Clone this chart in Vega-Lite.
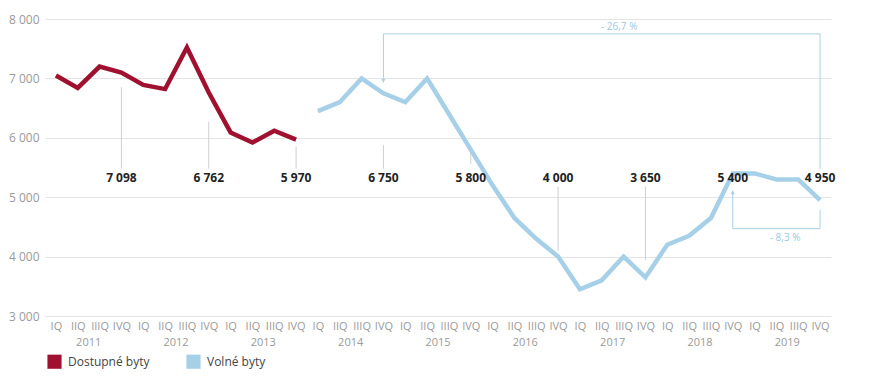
{
  "$schema": "https://vega.github.io/schema/vega-lite/v6.json",
  "width": 786,
  "height": 297,
  "autosize": "none",
  "padding": {"left": 45, "top": 19, "right": 40, "bottom": 62},
  "config": {"font": "Open Sans", "view": {"stroke": null}, "axisX": {"labelOverlap": false, "labelBound": false, "labelFlush": false}},
  "datasets": {
    "series": [
      {"q": 0, "series": "Dostupné byty", "value": 7050},
      {"q": 1, "series": "Dostupné byty", "value": 6840},
      {"q": 2, "series": "Dostupné byty", "value": 7200},
      {"q": 3, "series": "Dostupné byty", "value": 7098},
      {"q": 4, "series": "Dostupné byty", "value": 6890},
      {"q": 5, "series": "Dostupné byty", "value": 6820},
      {"q": 6, "series": "Dostupné byty", "value": 7520},
      {"q": 7, "series": "Dostupné byty", "value": 6762},
      {"q": 8, "series": "Dostupné byty", "value": 6090},
      {"q": 9, "series": "Dostupné byty", "value": 5920},
      {"q": 10, "series": "Dostupné byty", "value": 6120},
      {"q": 11, "series": "Dostupné byty", "value": 5970},
      {"q": 12, "series": "Volné byty", "value": 6450},
      {"q": 13, "series": "Volné byty", "value": 6600},
      {"q": 14, "series": "Volné byty", "value": 7000},
      {"q": 15, "series": "Volné byty", "value": 6750},
      {"q": 16, "series": "Volné byty", "value": 6600},
      {"q": 17, "series": "Volné byty", "value": 7000},
      {"q": 18, "series": "Volné byty", "value": 6400},
      {"q": 19, "series": "Volné byty", "value": 5800},
      {"q": 20, "series": "Volné byty", "value": 5200},
      {"q": 21, "series": "Volné byty", "value": 4650},
      {"q": 22, "series": "Volné byty", "value": 4300},
      {"q": 23, "series": "Volné byty", "value": 4000},
      {"q": 24, "series": "Volné byty", "value": 3450},
      {"q": 25, "series": "Volné byty", "value": 3600},
      {"q": 26, "series": "Volné byty", "value": 4000},
      {"q": 27, "series": "Volné byty", "value": 3650},
      {"q": 28, "series": "Volné byty", "value": 4200},
      {"q": 29, "series": "Volné byty", "value": 4350},
      {"q": 30, "series": "Volné byty", "value": 4650},
      {"q": 31, "series": "Volné byty", "value": 5400},
      {"q": 32, "series": "Volné byty", "value": 5400},
      {"q": 33, "series": "Volné byty", "value": 5300},
      {"q": 34, "series": "Volné byty", "value": 5300},
      {"q": 35, "series": "Volné byty", "value": 4950}
    ],
    "labels": [
      {"q": 3, "label": "7 098", "top": 6850, "bottom": 5480},
      {"q": 7, "label": "6 762", "top": 6270, "bottom": 5480},
      {"q": 11, "label": "5 970", "top": 5850, "bottom": 5480},
      {"q": 15, "label": "6 750", "top": 5880, "bottom": 5480},
      {"q": 19, "label": "5 800", "top": 5800, "bottom": 5560},
      {"q": 23, "label": "4 000", "top": 5180, "bottom": 4100},
      {"q": 27, "label": "3 650", "top": 5180, "bottom": 3940},
      {"q": 31, "label": "5 400", "top": null, "bottom": null},
      {"q": 35, "label": "4 950", "top": null, "bottom": null}
    ],
    "years": [
      {"year": "2011", "mid": 1.5},
      {"year": "2012", "mid": 5.5},
      {"year": "2013", "mid": 9.5},
      {"year": "2014", "mid": 13.5},
      {"year": "2015", "mid": 17.5},
      {"year": "2016", "mid": 21.5},
      {"year": "2017", "mid": 25.5},
      {"year": "2018", "mid": 29.5},
      {"year": "2019", "mid": 33.5}
    ],
    "brackets": [
      {"x": 15, "x2": 35, "y": 7750, "y2": 7750},
      {"x": 15, "x2": 15, "y": 7750, "y2": 6930},
      {"x": 35, "x2": 35, "y": 7750, "y2": 5480},
      {"x": 31, "x2": 31, "y": 5110, "y2": 4470},
      {"x": 31, "x2": 35, "y": 4470, "y2": 4470},
      {"x": 35, "x2": 35, "y": 4470, "y2": 4790}
    ],
    "arrows": [
      {"x": 15, "y": 6960, "dir": "down"},
      {"x": 31, "y": 5080, "dir": "up"}
    ],
    "notes": [
      {"x": 25.8, "y": 7870, "text": "- 26,7 %"},
      {"x": 33.4, "y": 4310, "text": "- 8,3 %"}
    ]
  },
  "layer": [
    {
      "data": {"name": "labels"},
      "transform": [{"filter": "datum.top != null"}],
      "mark": {"type": "rule", "color": "#cfcfcf", "strokeWidth": 1},
      "encoding": {
        "x": {"field": "q", "type": "quantitative", "scale": {"domain": [-0.5, 35.5], "nice": false, "zero": false},
          "axis": {"values": [0,1,2,3,4,5,6,7,8,9,10,11,12,13,14,15,16,17,18,19,20,21,22,23,24,25,26,27,28,29,30,31,32,33,34,35],
            "tickCount": 40,
            "labelExpr": "['IQ','IIQ','IIIQ','IVQ'][datum.value % 4]", "title": null, "grid": false, "domain": false, "ticks": false,
            "labelColor": "#9a9a9a", "labelFontSize": 11, "labelPadding": 4, "labelFlush": false, "labelOverlap": false}},
        "y": {"field": "top", "type": "quantitative", "scale": {"domain": [3000, 8000], "nice": false, "zero": false},
          "axis": {"values": [3000, 4000, 5000, 6000, 7000, 8000], "labelExpr": "replace(format(datum.value, ','), ',', ' ')",
            "title": null, "domain": false, "ticks": false, "gridColor": "#e4e4e4", "labelColor": "#9a9a9a", "labelFontSize": 12, "labelPadding": 6}},
        "y2": {"field": "bottom"}
      }
    },
    {
      "data": {"name": "brackets"},
      "mark": {"type": "rule", "color": "#a9d0e8", "strokeWidth": 1},
      "encoding": {
        "x": {"field": "x", "type": "quantitative"},
        "x2": {"field": "x2"},
        "y": {"field": "y", "type": "quantitative"},
        "y2": {"field": "y2"}
      }
    },
    {
      "data": {"name": "arrows"},
      "mark": {"type": "point", "filled": true, "color": "#a9d0e8", "size": 18, "opacity": 1},
      "encoding": {
        "x": {"field": "x", "type": "quantitative"},
        "y": {"field": "y", "type": "quantitative"},
        "shape": {"field": "dir", "type": "nominal", "scale": {"domain": ["down", "up"], "range": ["triangle-down", "triangle-up"]}, "legend": null}
      }
    },
    {
      "data": {"name": "series"},
      "mark": {"type": "line", "strokeWidth": 4.5, "strokeJoin": "miter", "strokeCap": "butt"},
      "encoding": {
        "x": {"field": "q", "type": "quantitative"},
        "y": {"field": "value", "type": "quantitative"},
        "color": {"field": "series", "type": "nominal",
          "scale": {"domain": ["Dostupné byty", "Volné byty"], "range": ["#a0112f", "#a6cfe8"]},
          "legend": {"title": null, "orient": "none", "legendX": 2, "legendY": 335, "direction": "horizontal",
            "symbolType": "square", "symbolSize": 200, "symbolStrokeWidth": 0, "labelFontSize": 12, "labelColor": "#444444",
            "labelOffset": 6, "columnPadding": 36,
            "encode": {"symbols": {"update": {"fill": {"scale": "color", "field": "value"}, "strokeWidth": {"value": 0}, "opacity": {"value": 1}}}}}}
      }
    },
    {
      "data": {"name": "labels"},
      "mark": {"type": "text", "fontWeight": "bold", "fontSize": 12, "color": "#222222", "baseline": "middle", "align": "center"},
      "encoding": {
        "x": {"field": "q", "type": "quantitative"},
        "y": {"datum": 5330, "type": "quantitative"},
        "text": {"field": "label"}
      }
    },
    {
      "data": {"name": "years"},
      "mark": {"type": "text", "fontSize": 11, "color": "#9a9a9a", "baseline": "middle", "align": "center"},
      "encoding": {
        "x": {"field": "mid", "type": "quantitative"},
        "y": {"datum": 2545, "type": "quantitative"},
        "text": {"field": "year"}
      }
    },
    {
      "data": {"name": "notes"},
      "mark": {"type": "text", "fontSize": 10, "color": "#9cc8e3", "baseline": "middle", "align": "center"},
      "encoding": {
        "x": {"field": "x", "type": "quantitative"},
        "y": {"field": "y", "type": "quantitative"},
        "text": {"field": "text"}
      }
    }
  ]
}
